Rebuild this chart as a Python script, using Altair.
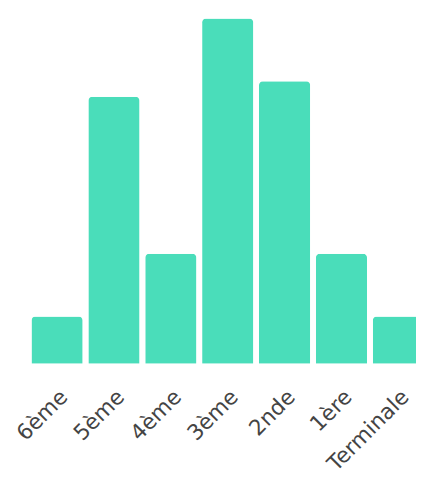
import altair as alt
import pandas as pd

levels = ["6ème", "5ème", "4ème", "3ème", "2nde", "1ère", "Terminale"]
counts = [3, 17, 7, 22, 18, 7, 3]

df = pd.DataFrame({"niveau": levels, "nombre": counts})

chart = alt.Chart(df).mark_bar(
    color="#4ADDBA",
    cornerRadiusTopLeft=4,
    cornerRadiusTopRight=4,
).encode(
    x=alt.X(
        "niveau:N",
        sort=levels,
        scale=alt.Scale(paddingInner=0.1, paddingOuter=0.05),
        axis=alt.Axis(
            title=None,
            domain=False,
            ticks=False,
            labelAngle=-45,
            labelFont="DejaVu Sans",
            labelFontSize=22,
            labelColor="#444444",
            labelPadding=23,
        ),
    ),
    y=alt.Y(
        "nombre:Q",
        scale=alt.Scale(domain=[0, 22], nice=False),
        axis=None,
    ),
).properties(
    width=406,
    height=352,
    autosize=alt.AutoSizeParams(type="none"),
    padding={"left": 21, "top": 6, "right": -11, "bottom": 111},
).configure_view(stroke=None)

chart.save("out.html", embed_options={"renderer": "svg", "actions": False})
